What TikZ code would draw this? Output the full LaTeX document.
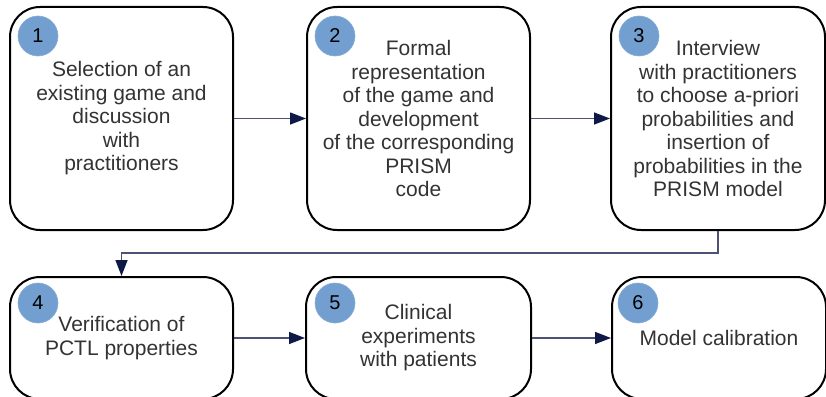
\documentclass[tikz,border=0pt]{standalone}
\usepackage{fontspec}
\setmainfont{Liberation Sans}
\usetikzlibrary{arrows.meta}
\definecolor{txtgray}{HTML}{333333}
\definecolor{badgeblue}{HTML}{729FCF}
\definecolor{linenavy}{HTML}{4D5274}
\definecolor{headnavy}{HTML}{0E1A45}
\tikzset{
  stepbox/.style={draw=black, line width=2pt, rounded corners=30pt, fill=white,
    align=center, text=txtgray, font=\fontsize{21}{23.5}\selectfont, inner sep=0pt},
  badge/.style={circle, fill=badgeblue, draw=badgeblue!85!white, line width=0.6pt,
    minimum size=40pt, inner sep=0pt, text=black, font=\fontsize{20}{22}\selectfont},
  conn/.style={draw=linenavy, line width=1.4pt,
    -{Triangle[length=16pt,width=12pt,color=headnavy]}}
}
\begin{document}
\begin{tikzpicture}[x=1pt,y=-1pt]
\useasboundingbox (0,0) rectangle (826,396);
% top row
\node[stepbox, minimum width=223pt, minimum height=223pt] (b1) at (121.5,118.5)
  {Selection of an\\existing game and\\discussion\\with\\practitioners};
\node[stepbox, minimum width=223pt, minimum height=223pt] (b2) at (418.5,118.5)
  {Formal\\representation\\of the game and\\development\\of the corresponding\\PRISM\\code};
\node[stepbox, minimum width=214pt, minimum height=223pt] (b3) at (718,118.5)
  {Interview\\with practitioners\\to choose a-priori\\probabilities and\\insertion of\\probabilities in the\\PRISM model};
% bottom row
\node[stepbox, minimum width=223pt, minimum height=122pt] (b4) at (121.5,338)
  {Verification of\\PCTL properties};
\node[stepbox, minimum width=225pt, minimum height=122pt] (b5) at (418.5,338)
  {Clinical\\experiments\\with patients};
\node[stepbox, minimum width=214pt, minimum height=122pt] (b6) at (719,338)
  {Model calibration};
% badges
\node[badge] (n1) at (38,36) {1};
\node[badge] (n2) at (335,36) {2};
\node[badge] (n3) at (639,36) {3};
\node[badge] (n4) at (38,303) {4};
\node[badge] (n5) at (335,303) {5};
\node[badge] (n6) at (638,303) {6};
% connectors
\draw[conn] (b1.east) -- (b2.west);
\draw[conn] (b2.east) -- (b3.west);
\draw[conn] (b3.south) -- ++(0,22) -| (b4.north);
\draw[conn] (b4.east) -- (b5.west);
\draw[conn] (b5.east) -- (b6.west);
\end{tikzpicture}
\end{document}
